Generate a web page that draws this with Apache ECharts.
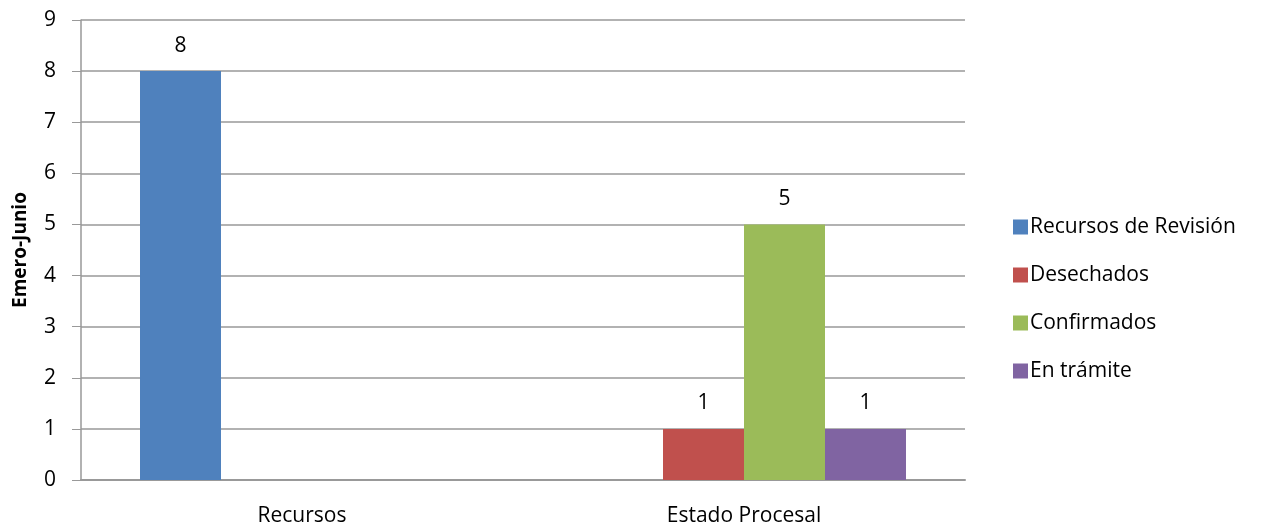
<!DOCTYPE html>
<html>
<head>
<meta charset="utf-8">
<script src="https://cdn.jsdelivr.net/npm/echarts@6/dist/echarts.min.js"></script>
<style>html,body{margin:0;padding:0;background:#fff;}#c{width:1271px;height:527px;}</style>
</head>
<body>
<div id="c"></div>
<script>
const categories = ['Recursos', 'Estado Procesal'];
const seriesNames = ['Recursos de Revisión', 'Desechados', 'Confirmados', 'En trámite'];
const recursosRevision = [8, null];
const desechados = [null, 1];
const confirmados = [null, 5];
const enTramite = [null, 1];
const colors = ['#4F81BD', '#C0504D', '#9BBB59', '#8064A2'];
const yAxisTitle = 'Emero-Junio';

const font = 'Open Sans, Liberation Sans, sans-serif';
const fs = 21;
const chart = echarts.init(document.getElementById('c'));
const datasets = [recursosRevision, desechados, confirmados, enTramite];
chart.setOption({
  animation: false,
  grid: { left: 81, right: 306, top: 20, bottom: 47, containLabel: false, outerBoundsMode: 'none' },
  legend: {
    orient: 'vertical', left: 1008, top: 211,
    itemWidth: 15, itemHeight: 15, itemGap: 26,
    icon: 'rect',
    textStyle: { fontFamily: font, fontSize: fs, lineHeight: 22, color: '#000', padding: [0,0,0,-3] },
    data: seriesNames
  },
  xAxis: {
    type: 'category', data: categories,
    axisLine: { lineStyle: { color: '#999', width: 2 } },
    axisTick: { show: false },
    axisLabel: { fontFamily: font, fontSize: fs, color: '#000', margin: 26 }
  },
  yAxis: {
    type: 'value', min: 0, max: 9, interval: 1,
    name: yAxisTitle, nameLocation: 'middle', nameGap: 51,
    nameTextStyle: { fontFamily: font, fontSize: 19, fontWeight: 'bold', color: '#000' },
    axisLine: { show: true, lineStyle: { color: '#999', width: 1.5 } },
    axisTick: { show: true, length: 9, lineStyle: { color: '#999' } },
    splitLine: { lineStyle: { color: '#999', width: 1.5 } },
    axisLabel: { fontFamily: font, fontSize: fs, color: '#000', margin: 25 }
  },
  series: seriesNames.map((n, i) => ({
    name: n, type: 'bar', data: datasets[i],
    barGap: '0%', barCategoryGap: '26.7%',
    itemStyle: { color: colors[i] },
    label: { show: true, position: 'top', distance: 15, fontFamily: font, fontSize: fs, color: '#000' }
  }))
});
</script>
</body>
</html>
